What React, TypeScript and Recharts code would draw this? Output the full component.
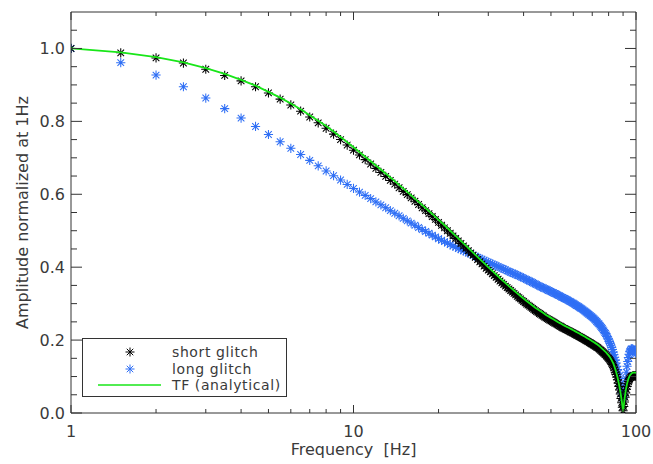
import { ComposedChart, Line, XAxis, YAxis, Legend } from 'recharts';

// measurement frequencies [Hz], 0.5 Hz steps
const freq = [
  1, 1.5, 2, 2.5, 3, 3.5, 4, 4.5, 5, 5.5,
  6, 6.5, 7, 7.5, 8, 8.5, 9, 9.5, 10, 10.5,
  11, 11.5, 12, 12.5, 13, 13.5, 14, 14.5, 15, 15.5,
  16, 16.5, 17, 17.5, 18, 18.5, 19, 19.5, 20, 20.5,
  21, 21.5, 22, 22.5, 23, 23.5, 24, 24.5, 25, 25.5,
  26, 26.5, 27, 27.5, 28, 28.5, 29, 29.5, 30, 30.5,
  31, 31.5, 32, 32.5, 33, 33.5, 34, 34.5, 35, 35.5,
  36, 36.5, 37, 37.5, 38, 38.5, 39, 39.5, 40, 40.5,
  41, 41.5, 42, 42.5, 43, 43.5, 44, 44.5, 45, 45.5,
  46, 46.5, 47, 47.5, 48, 48.5, 49, 49.5, 50, 50.5,
  51, 51.5, 52, 52.5, 53, 53.5, 54, 54.5, 55, 55.5,
  56, 56.5, 57, 57.5, 58, 58.5, 59, 59.5, 60, 60.5,
  61, 61.5, 62, 62.5, 63, 63.5, 64, 64.5, 65, 65.5,
  66, 66.5, 67, 67.5, 68, 68.5, 69, 69.5, 70, 70.5,
  71, 71.5, 72, 72.5, 73, 73.5, 74, 74.5, 75, 75.5,
  76, 76.5, 77, 77.5, 78, 78.5, 79, 79.5, 80, 80.5,
  81, 81.5, 82, 82.5, 83, 83.5, 84, 84.5, 85, 85.5,
  86, 86.5, 87, 87.5, 88, 88.5, 89, 89.5, 90, 90.5,
  91, 91.5, 92, 92.5, 93, 93.5, 94, 94.5, 95, 95.5,
  96, 96.5, 97, 97.5, 98, 98.5, 99, 99.5, 100,
];

const shortGlitch = [
  1.000, 0.988, 0.974, 0.960, 0.943, 0.926, 0.911, 0.895, 0.878, 0.861,
  0.845, 0.828, 0.812, 0.796, 0.781, 0.765, 0.750, 0.735, 0.721, 0.708,
  0.695, 0.683, 0.671, 0.660, 0.649, 0.638, 0.628, 0.618, 0.608, 0.599,
  0.590, 0.581, 0.572, 0.563, 0.555, 0.547, 0.539, 0.531, 0.523, 0.515,
  0.508, 0.500, 0.493, 0.486, 0.479, 0.472, 0.465, 0.458, 0.452, 0.445,
  0.439, 0.433, 0.427, 0.421, 0.415, 0.409, 0.403, 0.397, 0.392, 0.387,
  0.382, 0.377, 0.372, 0.367, 0.362, 0.357, 0.353, 0.348, 0.344, 0.340,
  0.336, 0.332, 0.328, 0.324, 0.320, 0.316, 0.313, 0.309, 0.306, 0.302,
  0.299, 0.296, 0.293, 0.290, 0.287, 0.284, 0.281, 0.278, 0.276, 0.273,
  0.271, 0.268, 0.266, 0.263, 0.261, 0.259, 0.257, 0.255, 0.253, 0.251,
  0.249, 0.247, 0.245, 0.243, 0.241, 0.239, 0.238, 0.236, 0.234, 0.232,
  0.231, 0.229, 0.228, 0.226, 0.225, 0.223, 0.222, 0.220, 0.219, 0.217,
  0.216, 0.214, 0.213, 0.211, 0.210, 0.208, 0.207, 0.205, 0.204, 0.202,
  0.201, 0.199, 0.198, 0.196, 0.195, 0.193, 0.192, 0.190, 0.189, 0.187,
  0.186, 0.184, 0.183, 0.181, 0.180, 0.178, 0.176, 0.174, 0.172, 0.170,
  0.168, 0.166, 0.164, 0.162, 0.160, 0.157, 0.155, 0.152, 0.150, 0.147,
  0.144, 0.141, 0.137, 0.133, 0.129, 0.124, 0.118, 0.112, 0.106, 0.099,
  0.091, 0.082, 0.073, 0.063, 0.052, 0.040, 0.028, 0.016, 0.006, 0.018,
  0.030, 0.043, 0.055, 0.065, 0.073, 0.080, 0.086, 0.091, 0.094, 0.097,
  0.099, 0.100, 0.101, 0.102, 0.102, 0.102, 0.102, 0.102, 0.101,
];

const longGlitch = [
  1.000, 0.961, 0.927, 0.895, 0.864, 0.835, 0.809, 0.786, 0.764, 0.744,
  0.726, 0.709, 0.693, 0.678, 0.664, 0.651, 0.639, 0.627, 0.616, 0.606,
  0.597, 0.588, 0.579, 0.571, 0.563, 0.555, 0.548, 0.541, 0.534, 0.527,
  0.521, 0.515, 0.509, 0.503, 0.498, 0.493, 0.488, 0.483, 0.478, 0.474,
  0.470, 0.466, 0.462, 0.458, 0.455, 0.451, 0.448, 0.445, 0.442, 0.439,
  0.436, 0.433, 0.430, 0.427, 0.424, 0.422, 0.419, 0.416, 0.414, 0.411,
  0.409, 0.406, 0.404, 0.402, 0.399, 0.397, 0.395, 0.393, 0.390, 0.388,
  0.386, 0.384, 0.382, 0.380, 0.378, 0.376, 0.374, 0.372, 0.370, 0.368,
  0.366, 0.364, 0.362, 0.360, 0.358, 0.356, 0.354, 0.352, 0.350, 0.348,
  0.346, 0.345, 0.343, 0.341, 0.340, 0.338, 0.336, 0.335, 0.333, 0.331,
  0.330, 0.328, 0.327, 0.325, 0.323, 0.322, 0.320, 0.318, 0.317, 0.315,
  0.314, 0.312, 0.311, 0.309, 0.307, 0.306, 0.304, 0.302, 0.301, 0.299,
  0.297, 0.295, 0.294, 0.292, 0.290, 0.288, 0.287, 0.285, 0.283, 0.281,
  0.279, 0.277, 0.275, 0.273, 0.271, 0.269, 0.267, 0.265, 0.263, 0.261,
  0.259, 0.256, 0.254, 0.251, 0.249, 0.246, 0.244, 0.241, 0.238, 0.235,
  0.232, 0.228, 0.225, 0.221, 0.218, 0.214, 0.210, 0.205, 0.201, 0.196,
  0.191, 0.186, 0.180, 0.174, 0.167, 0.160, 0.153, 0.145, 0.137, 0.128,
  0.119, 0.109, 0.099, 0.088, 0.077, 0.066, 0.055, 0.046, 0.040, 0.047,
  0.060, 0.077, 0.095, 0.112, 0.128, 0.141, 0.152, 0.161, 0.168, 0.172,
  0.175, 0.176, 0.176, 0.175, 0.173, 0.171, 0.168, 0.166, 0.163,
];

// analytical transfer function samples
const tfFreq = [
  1, 1.5, 2, 2.5, 3, 3.5, 4, 4.5, 5, 5.5,
  6, 6.5, 7, 7.5, 8, 8.5, 9, 9.5, 10,
  11, 12, 13, 14, 15, 16, 17, 18, 19, 20,
  21, 22, 23, 24, 25, 26, 27, 28, 29, 30,
  31, 32, 33, 34, 35, 36, 37, 38, 39, 40,
  41, 42, 43, 44, 45, 46, 47, 48, 49, 50,
  51, 52, 53, 54, 55, 56, 57, 58, 59, 60,
  61, 62, 63, 64, 65, 66, 67, 68, 69, 70,
  71, 72, 73, 74, 75, 76, 77, 78, 79, 80,
  81, 82, 83, 84, 85, 86, 87, 88, 89, 90,
  91, 92, 93, 94, 95, 96, 97, 98, 99, 100,
];

const tfAnalytical = [
  1.000, 0.989, 0.976, 0.962, 0.946, 0.930, 0.914, 0.898, 0.881, 0.865,
  0.849, 0.833, 0.817, 0.802, 0.787, 0.772, 0.757, 0.743, 0.729,
  0.703, 0.679, 0.657, 0.636, 0.616, 0.597, 0.579, 0.562, 0.546, 0.530,
  0.515, 0.500, 0.486, 0.472, 0.459, 0.446, 0.434, 0.422, 0.411, 0.400,
  0.390, 0.380, 0.370, 0.361, 0.352, 0.344, 0.336, 0.328, 0.321, 0.314,
  0.307, 0.301, 0.295, 0.289, 0.284, 0.279, 0.274, 0.269, 0.265, 0.261,
  0.257, 0.253, 0.249, 0.246, 0.242, 0.239, 0.236, 0.233, 0.230, 0.227,
  0.224, 0.221, 0.218, 0.215, 0.212, 0.209, 0.206, 0.203, 0.200, 0.197,
  0.194, 0.191, 0.188, 0.184, 0.180, 0.176, 0.172, 0.168, 0.163, 0.158,
  0.152, 0.145, 0.137, 0.126, 0.113, 0.098, 0.080, 0.059, 0.034, 0.004,
  0.036, 0.062, 0.081, 0.094, 0.102, 0.107, 0.110, 0.111, 0.111, 0.110,
];

const xTicks = [1, 2, 3, 4, 5, 6, 7, 8, 9, 10, 20, 30, 40, 50, 60, 70, 80, 90, 100];
const xMajor = [1, 10, 100];
const yTicks = [
  0, 0.05, 0.1, 0.15, 0.2, 0.25, 0.3, 0.35, 0.4, 0.45, 0.5,
  0.55, 0.6, 0.65, 0.7, 0.75, 0.8, 0.85, 0.9, 0.95, 1.0, 1.05,
];

const legendItems = [
  { label: 'short glitch', kind: 'star', color: '#000000' },
  { label: 'long glitch', kind: 'star', color: '#2f6ff5' },
  { label: 'TF (analytical)', kind: 'line', color: '#18e618' },
];

const data = freq.map((f, i) => ({ f, short: shortGlitch[i], long: longGlitch[i] }));
const tfData = tfFreq.map((f, i) => ({ f, tf: tfAnalytical[i] }));

const FONT = '"DejaVu Sans", sans-serif';
const AXIS = '#333';
const TEXT = '#3a3a3a';

function starPath(cx: number, cy: number, r: number) {
  const d = r * 0.72;
  return `M${cx - r},${cy}H${cx + r}M${cx},${cy - r}V${cy + r}` +
    `M${cx - d},${cy - d}L${cx + d},${cy + d}M${cx - d},${cy + d}L${cx + d},${cy - d}`;
}

const starDot = (color: string) => (props: any) => {
  const { cx, cy, index } = props;
  if (cx == null || cy == null) return <g key={index} />;
  return <path key={index} d={starPath(cx, cy, 4.6)} stroke={color} strokeWidth={1.05} fill="none" />;
};

const isMajorY = (v: number) => Math.round(v * 100) % 20 === 0;

const BottomTick = (props: any) => {
  const { x, y, payload } = props;
  const major = xMajor.includes(payload.value);
  return (
    <g>
      <line x1={x} y1={y} x2={x} y2={y - (major ? 8 : 4)} stroke={AXIS} />
      {major && (
        <text x={x} y={y + 24} textAnchor="middle" fontFamily={FONT} fontSize={16} fill={TEXT}>
          {payload.value}
        </text>
      )}
    </g>
  );
};

const TopTick = (props: any) => {
  const { x, y, payload } = props;
  const major = xMajor.includes(payload.value);
  return <line x1={x} y1={y} x2={x} y2={y + (major ? 8 : 4)} stroke={AXIS} />;
};

const LeftTick = (props: any) => {
  const { x, y, payload } = props;
  const major = isMajorY(payload.value);
  return (
    <g>
      <line x1={x} y1={y} x2={x + (major ? 11 : 6)} y2={y} stroke={AXIS} />
      {major && (
        <text x={x - 6} y={y} dy="0.36em" textAnchor="end" fontFamily={FONT} fontSize={16} fill={TEXT}>
          {payload.value.toFixed(1)}
        </text>
      )}
    </g>
  );
};

const RightTick = (props: any) => {
  const { x, y, payload } = props;
  const major = isMajorY(payload.value);
  return <line x1={x} y1={y} x2={x - (major ? 11 : 6)} y2={y} stroke={AXIS} />;
};

const XTitle = (props: any) => {
  const { viewBox } = props;
  return (
    <text x={viewBox.x + viewBox.width / 2} y={viewBox.y + 42} textAnchor="middle"
      fontFamily={FONT} fontSize={16} fill={TEXT} style={{ whiteSpace: 'pre' }}>
      {'Frequency  [Hz]'}
    </text>
  );
};

const YTitle = (props: any) => {
  const { viewBox } = props;
  const cx = viewBox.x + 11;
  const cy = viewBox.y + viewBox.height / 2;
  return (
    <text x={cx} y={cy} dy="0.36em" textAnchor="middle" transform={`rotate(-90, ${cx}, ${cy})`}
      fontFamily={FONT} fontSize={16} fill={TEXT}>
      Amplitude normalized at 1Hz
    </text>
  );
};

const LegendBox = () => (
  <div style={{
    width: 203, height: 57, border: `1px solid ${AXIS}`, background: '#fff',
    position: 'relative', fontFamily: FONT, fontSize: 14, color: TEXT, letterSpacing: 0.6,
  }}>
    {legendItems.map((it, i) => (
      <div key={it.label} style={{ position: 'absolute', left: 0, top: 5 + i * 16.5, height: 16, width: 203 }}>
        <svg width={88} height={16} style={{ position: 'absolute', left: 0, top: 0 }}>
          {it.kind === 'star'
            ? <path d={starPath(47, 8, 4.5)} stroke={it.color} strokeWidth={1} fill="none" />
            : <line x1={15} y1={8} x2={78} y2={8} stroke={it.color} strokeWidth={1.5} />}
        </svg>
        <span style={{ position: 'absolute', left: 89, top: 0, lineHeight: '16px', whiteSpace: 'nowrap' }}>
          {it.label}
        </span>
      </div>
    ))}
  </div>
);

export default function App() {
  return (
    <div style={{ position: 'absolute', left: 0, top: 0, background: '#fff' }}>
      <ComposedChart width={653} height={464} data={data}
        margin={{ top: 10, right: 7, bottom: 11, left: 11 }}>
        <XAxis xAxisId="bottom" dataKey="f" type="number" scale="log" domain={[1, 100]}
          allowDataOverflow ticks={xTicks} interval={0} tickSize={0} tickMargin={0}
          tickLine={false} axisLine={{ stroke: AXIS }} tick={<BottomTick />} height={40}
          label={<XTitle />} />
        <XAxis xAxisId="top" orientation="top" dataKey="f" type="number" scale="log"
          domain={[1, 100]} allowDataOverflow ticks={xTicks} interval={0} tickSize={0}
          tickMargin={0} tickLine={false} axisLine={{ stroke: AXIS }} tick={<TopTick />} height={2} />
        <YAxis yAxisId="left" type="number" domain={[0, 1.1]} allowDataOverflow ticks={yTicks}
          interval={0} tickSize={0} tickMargin={0} tickLine={false} axisLine={{ stroke: AXIS }}
          tick={<LeftTick />} width={60} label={<YTitle />} />
        <YAxis yAxisId="right" orientation="right" type="number" domain={[0, 1.1]}
          allowDataOverflow ticks={yTicks} interval={0} tickSize={0} tickMargin={0}
          tickLine={false} axisLine={{ stroke: AXIS }} tick={<RightTick />} width={10} />
        <Line xAxisId="bottom" yAxisId="left" dataKey="long" stroke="none"
          dot={starDot(legendItems[1].color)} activeDot={false} isAnimationActive={false} />
        <Line xAxisId="bottom" yAxisId="left" dataKey="short" stroke="none"
          dot={starDot(legendItems[0].color)} activeDot={false} isAnimationActive={false} />
        <Line xAxisId="top" yAxisId="right" data={tfData} dataKey="tf" type="linear"
          stroke={legendItems[2].color} strokeWidth={1.8} dot={false} activeDot={false}
          isAnimationActive={false} zIndex={1500} />
        <Legend layout="horizontal" verticalAlign="middle" align="center" content={<LegendBox />}
          wrapperStyle={{ left: 82, top: 338, width: 205, height: 59 }} />
      </ComposedChart>
    </div>
  );
}
